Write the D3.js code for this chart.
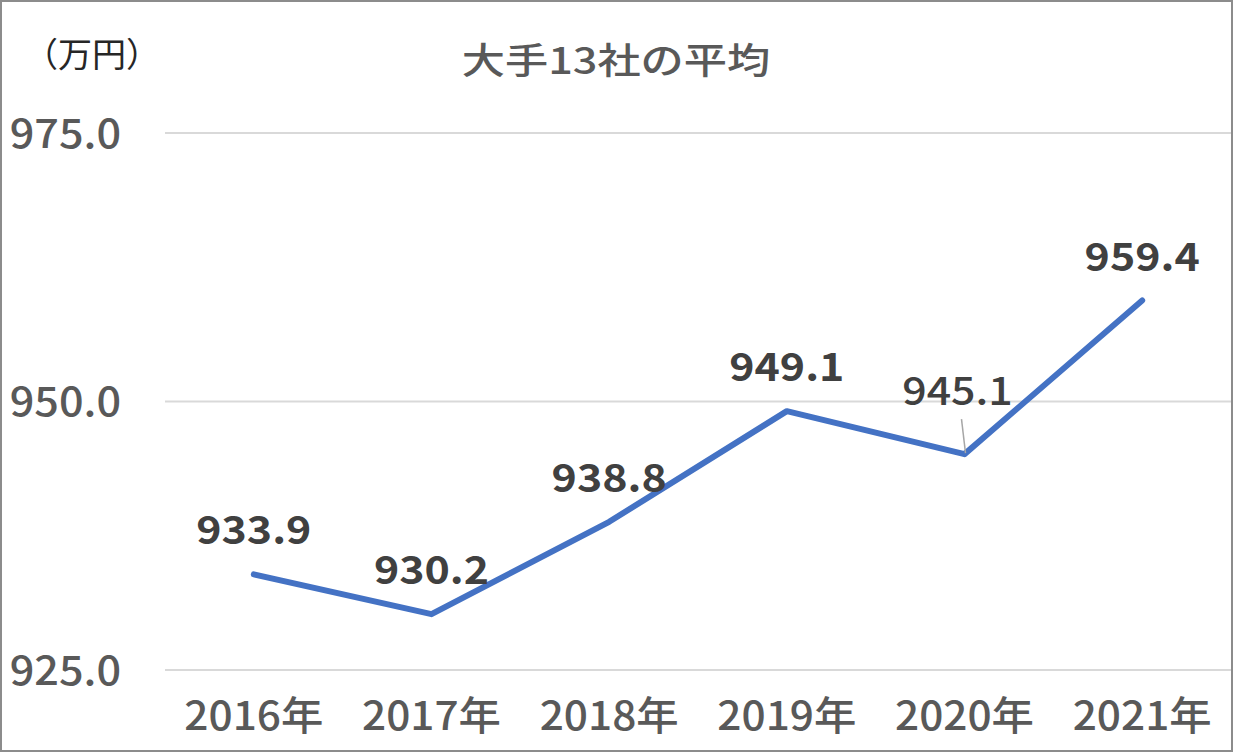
<!DOCTYPE html>
<html><head><meta charset="utf-8">
<script src="https://cdn.jsdelivr.net/npm/d3@7"></script>
<style>
html,body{margin:0;padding:0;background:#fff;}
svg{display:block;}
text{font-family:"Noto Sans CJK JP","Noto Sans",sans-serif;}
</style></head>
<body>
<svg id="chart" width="1238" height="753"></svg>
<script>
const categories = ["2016年","2017年","2018年","2019年","2020年","2021年"];
const values = [933.9, 930.2, 938.8, 949.1, 945.1, 959.4];
const yTicks = [925, 950, 975];
const title = "大手13社の平均";
const unitLabel = "（万円）";

const svg = d3.select("#chart");
const plot = {left:165, right:1231, top:133, bottom:670};

svg.append("rect").attr("x",1).attr("y",1).attr("width",1231).attr("height",750)
  .attr("fill","#fff").attr("stroke","#8c8c8c").attr("stroke-width",2);

const x = d3.scaleBand().domain(categories).range([plot.left, plot.right]);
const y = d3.scaleLinear().domain([925,975]).range([plot.bottom, plot.top]);

// gridlines
svg.append("g").selectAll("line").data(yTicks).join("line")
  .attr("x1",plot.left).attr("x2",plot.right)
  .attr("y1",d=>y(d)).attr("y2",d=>y(d))
  .attr("stroke","#d9d9d9").attr("stroke-width",2);

// y axis labels
const yAxis = d3.axisLeft(y).tickValues(yTicks).tickFormat(d3.format(".1f")).tickSize(0).tickPadding(0);
const yg = svg.append("g").attr("transform",`translate(121,0)`).call(yAxis);
yg.select(".domain").remove();
yg.selectAll(".tick text").attr("fill","#595959").attr("font-size",40).attr("font-weight",500)
  .attr("dy","0.36em").attr("text-anchor","end")
  .style("transform","scaleX(1.08)").style("transform-box","fill-box").style("transform-origin","right");

// x axis labels
const xAxis = d3.axisBottom(x).tickSize(0).tickPadding(0);
const xg = svg.append("g").attr("transform",`translate(0,730)`).call(xAxis);
xg.select(".domain").remove();
xg.selectAll("text").attr("fill","#595959").attr("font-size",40).attr("font-weight",500).attr("dy",0).attr("y",0)
  .style("transform","scaleX(1.06)").style("transform-box","fill-box").style("transform-origin","center");

// line
const line = d3.line().x((d,i)=>x(categories[i])+x.bandwidth()/2).y(d=>y(d));
svg.append("path").datum(values).attr("d",line)
  .attr("fill","none").attr("stroke","#4472C4").attr("stroke-width",6)
  .attr("stroke-linejoin","round").attr("stroke-linecap","round");

// data labels
const lbl = svg.append("g");
values.forEach((v,i)=>{
  const cx = x(categories[i])+x.bandwidth()/2;
  const cy = y(v);
  const moved = i===4;
  const lx = moved ? cx-7 : cx;
  const ly = moved ? cy-49 : cy-30;
  if(moved){
    lbl.append("line").attr("x1",cx-3).attr("y1",cy-35).attr("x2",cx+1).attr("y2",cy-1)
      .attr("stroke","#a6a6a6").attr("stroke-width",1.5);
  }
  lbl.append("text").attr("x",lx).attr("y",ly).attr("text-anchor","middle")
    .attr("font-size",39).attr("font-weight",moved?500:600).attr("fill","#404040")
    .style("transform","scaleX(1.1)").style("transform-box","fill-box").style("transform-origin","center")
    .text(d3.format(".1f")(v));
});

// title
svg.append("text").attr("x",616).attr("y",74).attr("text-anchor","middle")
  .attr("font-size",36).attr("font-weight",500).attr("fill","#595959")
  .style("transform","scaleX(1.2)").style("transform-box","fill-box").style("transform-origin","center")
  .text(title);

// unit
svg.append("text").attr("x",92).attr("y",67).attr("text-anchor","middle")
  .attr("font-size",34).attr("fill","#262626")
  .text(unitLabel);
</script>
</body></html>
